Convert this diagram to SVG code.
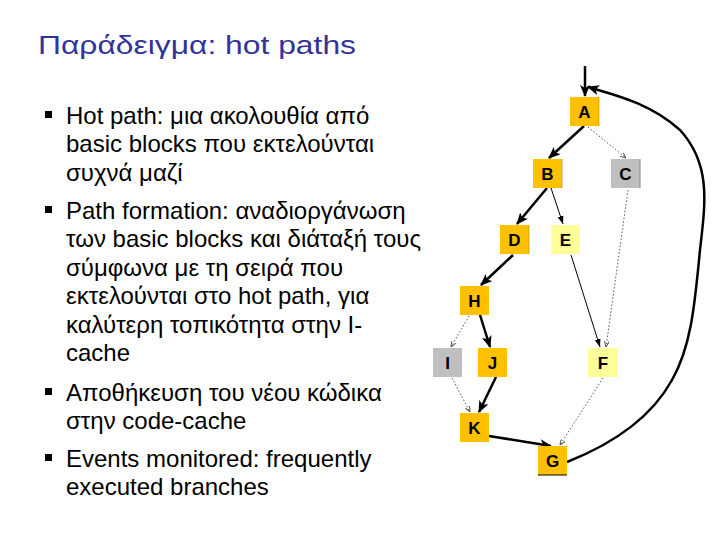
<svg xmlns="http://www.w3.org/2000/svg" width="720" height="540" viewBox="0 0 720 540">
<defs>
<style>
.title{font-family:"Liberation Sans",Arial,sans-serif;font-size:26px;fill:#333399}
.body{font-family:"Liberation Sans",Arial,sans-serif;font-size:24px;fill:#000}
.lbl{font-family:"Liberation Sans",Arial,sans-serif;font-size:17px;font-weight:bold;fill:#000;text-anchor:middle}
.hot{fill:#FFC000}
.warm{fill:#FFFF99}
.cold{fill:#BFBFBF}
.edge{stroke:#9a7a00;stroke-width:1;opacity:0.5}
.thick{stroke:#000;stroke-width:2.5;fill:none}
.thin{stroke:#000;stroke-width:1;fill:none}
.dot{stroke:#555;stroke-width:1;stroke-dasharray:1.5 2;fill:none}
</style>
<marker id="ah" markerUnits="userSpaceOnUse" markerWidth="12" markerHeight="10" viewBox="0 0 12 10" refX="11" refY="5" orient="auto"><path d="M0,0 L12,5 L0,10 L3,5 Z" fill="#000"/></marker>
<marker id="as" markerUnits="userSpaceOnUse" markerWidth="8" markerHeight="6" viewBox="0 0 8 6" refX="8" refY="3" orient="auto"><path d="M0,0 L8,3 L0,6 Z" fill="#000"/></marker>
<marker id="ad" markerUnits="userSpaceOnUse" markerWidth="6" markerHeight="5" viewBox="0 0 6 5" refX="6" refY="2.5" orient="auto"><path d="M0,0 L6,2.5 L0,5" fill="none" stroke="#555" stroke-width="1"/></marker>
</defs>
<rect width="720" height="540" fill="#fff"/>
<text class="title" x="38" y="54" textLength="318" lengthAdjust="spacingAndGlyphs">Παράδειγμα: hot paths</text>
<g id="bullets">
<rect x="45" y="111" width="7" height="7"/>
<text class="body" x="66" y="123.5">Hot path: μια ακολουθία από</text>
<text class="body" x="66" y="152">basic blocks που εκτελούνται</text>
<text class="body" x="66" y="180.5">συχνά μαζί</text>
<rect x="45" y="206" width="7" height="7"/>
<text class="body" x="66" y="218.5">Path formation: αναδιοργάνωση</text>
<text class="body" x="66" y="247">των basic blocks και διάταξή τους</text>
<text class="body" x="66" y="275.5">σύμφωνα με τη σειρά που</text>
<text class="body" x="66" y="304">εκτελούνται στο hot path, για</text>
<text class="body" x="66" y="332.5">καλύτερη τοπικότητα στην I-</text>
<text class="body" x="66" y="361">cache</text>
<rect x="45" y="388" width="7" height="7"/>
<text class="body" x="66" y="400.5">Αποθήκευση του νέου κώδικα</text>
<text class="body" x="66" y="428.5">στην code-cache</text>
<rect x="45" y="454" width="7" height="7"/>
<text class="body" x="66" y="466.5">Events monitored: frequently</text>
<text class="body" x="66" y="495">executed branches</text>
</g>
<g id="connectors">
<line class="thick" x1="585" y1="66" x2="585" y2="96" marker-end="url(#ah)"/>
<path class="thick" d="M567,462 C610,445 650,420 672,380 C692,345 695,300 700,250 C705,205 712,165 680,130 C650,103 615,95 588,87" marker-end="url(#ah)"/>
<line class="thick" x1="584" y1="126" x2="549" y2="158" marker-end="url(#ah)"/>
<line class="dot" x1="588" y1="127" x2="626" y2="158" marker-end="url(#ad)"/>
<line class="thick" x1="547" y1="188" x2="517" y2="224" marker-end="url(#ah)"/>
<line class="thin" x1="551" y1="188" x2="563" y2="224" marker-end="url(#as)"/>
<line class="dot" x1="628" y1="190" x2="606" y2="347" marker-end="url(#ad)"/>
<line class="thin" x1="571" y1="255" x2="600" y2="347" marker-end="url(#as)"/>
<line class="thick" x1="513" y1="255" x2="481" y2="285" marker-end="url(#ah)"/>
<line class="dot" x1="469" y1="316" x2="451" y2="347" marker-end="url(#ad)"/>
<line class="thick" x1="480" y1="315" x2="490" y2="347" marker-end="url(#ah)"/>
<line class="dot" x1="452" y1="378" x2="470" y2="412" marker-end="url(#ad)"/>
<line class="thick" x1="496" y1="377" x2="479" y2="412" marker-end="url(#ah)"/>
<line class="thick" x1="489" y1="436" x2="551" y2="446" marker-end="url(#ah)"/>
<line class="dot" x1="603" y1="378" x2="560" y2="445" marker-end="url(#ad)"/>
</g>
<g id="A"><rect class="hot" x="570" y="97" width="29" height="29"/><line class="edge" x1="599" y1="97" x2="599" y2="126"/><text class="lbl" x="584.5" y="117.5">A</text></g>
<g id="B"><rect class="hot" x="533" y="159" width="29" height="29"/><line class="edge" x1="562" y1="159" x2="562" y2="188"/><text class="lbl" x="547.5" y="179.5">B</text></g>
<g id="C"><rect class="cold" x="611" y="159" width="29" height="29"/><line x1="640" y1="159" x2="640" y2="188" stroke="#888" stroke-width="1"/><text class="lbl" x="625.5" y="179.5">C</text></g>
<g id="D"><rect class="hot" x="500" y="225" width="29" height="29"/><line class="edge" x1="529" y1="225" x2="529" y2="254"/><text class="lbl" x="514.5" y="245.5">D</text></g>
<g id="E"><rect class="warm" x="551" y="225" width="29" height="29"/><text class="lbl" x="565.5" y="245.5">E</text></g>
<g id="H"><rect class="hot" x="460" y="286" width="29" height="29"/><text class="lbl" x="474.5" y="306.5">H</text></g>
<g id="I"><rect class="cold" x="433" y="348" width="29" height="29"/><text class="lbl" x="447.5" y="368.5">I</text></g>
<g id="J"><rect class="hot" x="478" y="348" width="29" height="29"/><text class="lbl" x="492.5" y="368.5">J</text></g>
<g id="F"><rect class="warm" x="588" y="348" width="30" height="29"/><text class="lbl" x="603" y="368.5">F</text></g>
<g id="K"><rect class="hot" x="460" y="413" width="29" height="29"/><text class="lbl" x="474.5" y="433.5">K</text></g>
<g id="G"><rect class="hot" x="538" y="446" width="29" height="29"/><line x1="538" y1="475" x2="567" y2="475" stroke="#000" stroke-width="1"/><text class="lbl" x="552.5" y="466.5">G</text></g>
</svg>
